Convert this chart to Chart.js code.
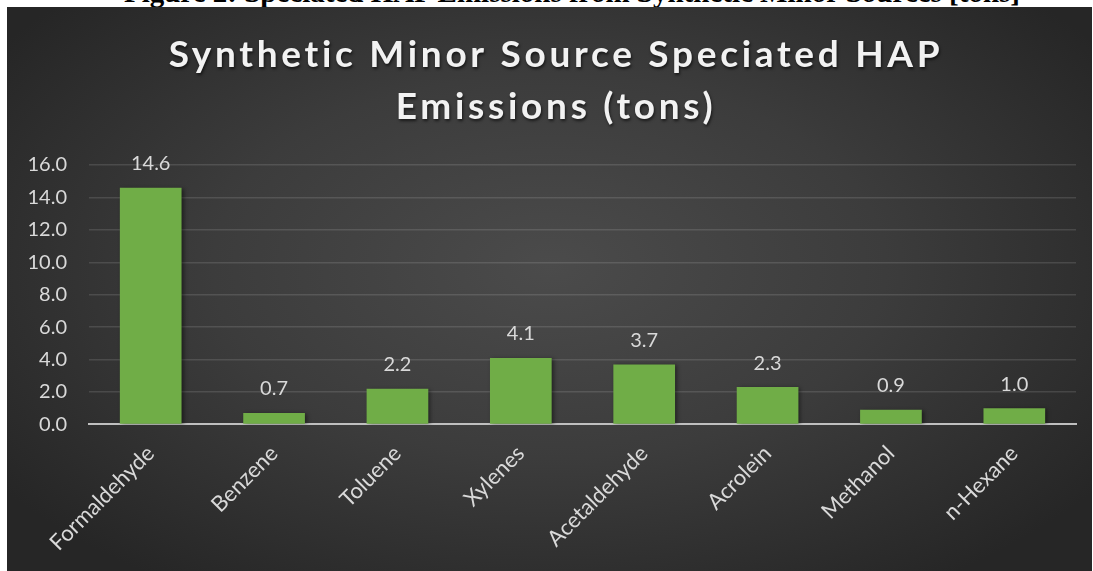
<!DOCTYPE html>
<html>
<head>
<meta charset="utf-8">
<script src="https://cdn.jsdelivr.net/npm/chart.js@4.4.0/dist/chart.umd.min.js"></script>
<style>
  html, body { margin: 0; padding: 0; background: #ffffff; width: 1093px; height: 571px; overflow: hidden; }
  #caption-strip { position: absolute; left: 0; top: 0; width: 1093px; height: 7px; overflow: hidden; }
  #caption {
    position: absolute; left: 0; top: -22px; width: 1093px; padding-left: 51px; box-sizing: border-box;
    text-align: center; white-space: nowrap;
    font: bold 29px/29px "Liberation Serif", serif; color: #000;
  }
  #panel {
    position: absolute; left: 7px; top: 7px; width: 1085px; height: 564px;
    background: radial-gradient(ellipse 62% 68% at 50% 46%, #4b4b4b 0%, #3c3c3c 50%, #262626 100%);
  }
  canvas { display: block; }
</style>
</head>
<body>
<div id="caption-strip"><div id="caption">Figure 2: Speciated HAP Emissions from Synthetic Minor Sources [tons]</div></div>
<div id="panel"><canvas id="chart" width="1085" height="564"></canvas></div>
<script>
// Speciated HAP emissions by pollutant (tons)
const categories = ['Formaldehyde', 'Benzene', 'Toluene', 'Xylenes', 'Acetaldehyde', 'Acrolein', 'Methanol', 'n-Hexane'];
const emissions = [14.6, 0.7, 2.2, 4.1, 3.7, 2.3, 0.9, 1.0];
const yTickValues = [0, 2, 4, 6, 8, 10, 12, 14, 16];
const titleLines = ['Synthetic Minor Source Speciated HAP', 'Emissions (tons)'];

const LABEL_COLOR = '#d9d9d9';
const BAR_COLOR = '#70ad47';
const FONT = 'Lato, "Open Sans", sans-serif';

// Two-line bold title with a soft drop shadow
const titlePlugin = {
  id: 'titleLines',
  afterDraw(chart) {
    const ctx = chart.ctx;
    ctx.save();
    ctx.font = 'bold 37px ' + FONT;
    ctx.letterSpacing = '3.7px';
    ctx.fillStyle = '#f2f2f2';
    ctx.textAlign = 'center';
    ctx.textBaseline = 'alphabetic';
    ctx.shadowColor = 'rgba(0,0,0,0.6)';
    ctx.shadowBlur = 3;
    ctx.shadowOffsetX = 1;
    ctx.shadowOffsetY = 2;
    ctx.fillText(titleLines[0], 549, 60);
    ctx.fillText(titleLines[1], 549, 112);
    ctx.restore();
  }
};

// Shadow under the bars
const barShadow = {
  id: 'barShadow',
  beforeDatasetsDraw(chart) {
    const ctx = chart.ctx;
    ctx.save();
    ctx.shadowColor = 'rgba(0,0,0,0.45)';
    ctx.shadowBlur = 4;
    ctx.shadowOffsetX = 2;
    ctx.shadowOffsetY = 1;
  },
  afterDatasetsDraw(chart) {
    chart.ctx.restore();
  }
};

// Value labels above each bar
const valueLabels = {
  id: 'valueLabels',
  afterDatasetsDraw(chart) {
    const ctx = chart.ctx;
    const meta = chart.getDatasetMeta(0);
    const data = chart.data.datasets[0].data;
    ctx.save();
    ctx.font = '20px ' + FONT;
    ctx.fillStyle = LABEL_COLOR;
    ctx.textAlign = 'center';
    ctx.textBaseline = 'middle';
    meta.data.forEach((bar, i) => {
      ctx.fillText(data[i].toFixed(1), bar.x, bar.y - 24);
    });
    ctx.restore();
  }
};

new Chart(document.getElementById('chart'), {
  type: 'bar',
  data: {
    labels: categories,
    datasets: [{
      data: emissions,
      backgroundColor: BAR_COLOR,
      borderWidth: 0,
      categoryPercentage: 1.0,
      barPercentage: 0.5
    }]
  },
  options: {
    responsive: false,
    animation: false,
    devicePixelRatio: 1,
    layout: { padding: { left: -1.5, right: 16, top: 158, bottom: 7 } },
    plugins: {
      legend: { display: false },
      title: { display: false },
      tooltip: { enabled: false }
    },
    scales: {
      x: {
        grid: { display: false },
        border: { display: true, color: '#bfbfbf', width: 2 },
        ticks: {
          color: LABEL_COLOR,
          font: { family: FONT, size: 22 },
          maxRotation: 45,
          minRotation: 45,
          padding: 8
        }
      },
      y: {
        min: 0,
        max: 16,
        afterBuildTicks(scale) {
          scale.ticks = yTickValues.map(v => ({ value: v }));
        },
        grid: {
          color: ctx => ctx.tick && ctx.tick.value === 0 ? 'rgba(0,0,0,0)' : 'rgba(255,255,255,0.12)',
          lineWidth: 1.5,
          drawTicks: false
        },
        border: { display: false },
        ticks: {
          color: LABEL_COLOR,
          font: { family: FONT, size: 20 },
          padding: 22,
          callback: v => Number(v).toFixed(1)
        }
      }
    }
  },
  plugins: [barShadow, valueLabels, titlePlugin]
});
</script>
</body>
</html>
